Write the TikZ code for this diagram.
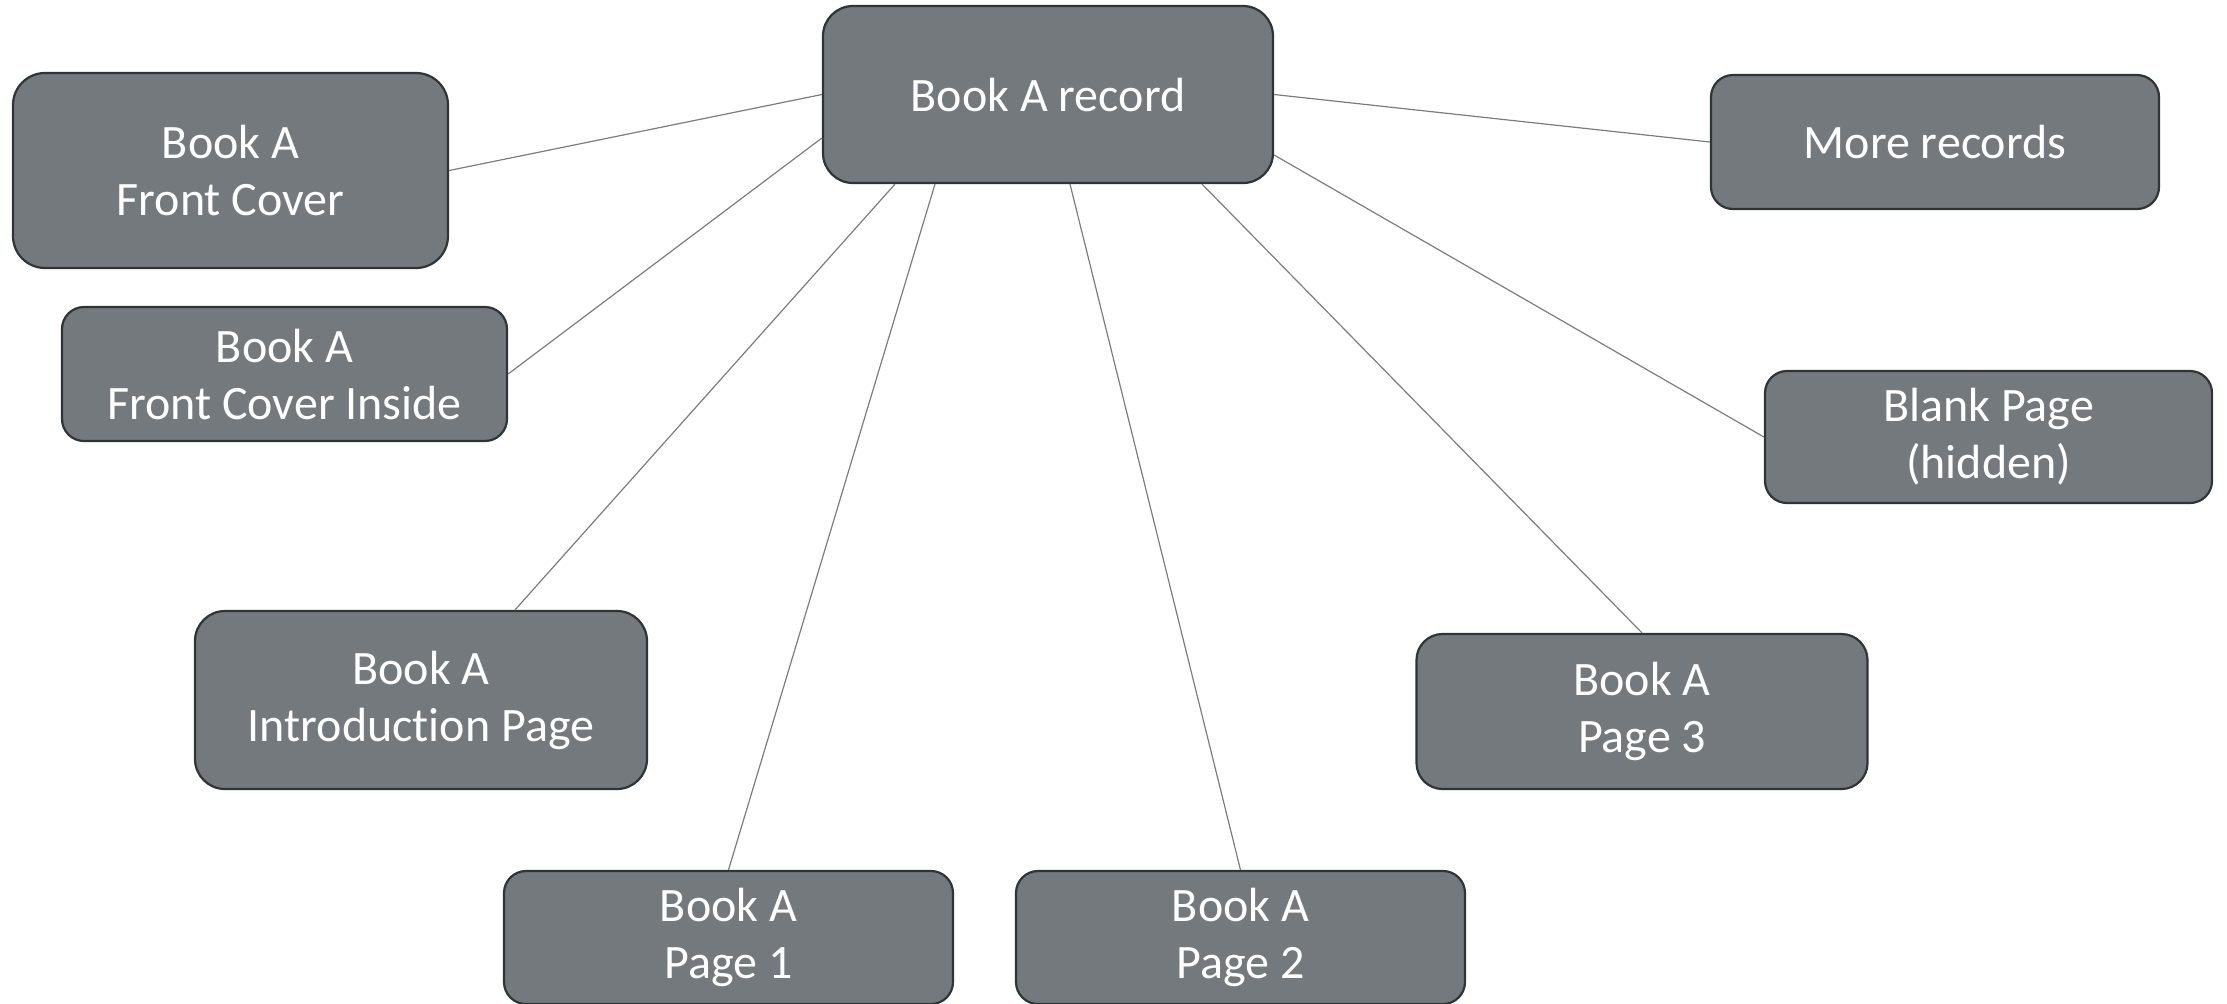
\documentclass[tikz,border=0pt]{standalone}
\usepackage{fontspec}
\setmainfont{Carlito}[Ligatures=NoCommon]
\usepackage{tikz}
\usetikzlibrary{calc}

\definecolor{boxgrey}{RGB}{115,121,124}
\definecolor{boxline}{RGB}{47,52,54}
\definecolor{linkgrey}{RGB}{122,124,126}

\tikzset{
    item/.style={draw=boxline, fill=boxgrey, line width=1.1pt, text=white,
        align=center, inner sep=0pt, font=\fontsize{24}{28.5}\selectfont},
    link/.style={draw=linkgrey, line width=0.6pt},
}

\begin{document}
\begin{tikzpicture}[x=0.5pt,y=-0.5pt]
    \useasboundingbox (0,0) rectangle (2227,1003);

    \node[item, minimum width=225pt, minimum height=88.5pt, rounded corners=15pt] (rec) at (1048,94.5) {Book A record};

    \node[item, minimum width=217.5pt, minimum height=97.5pt, rounded corners=16pt] (cover) at (230.5,170.5) {Book A\\Front Cover};
    \node[item, minimum width=222.5pt, minimum height=67pt, rounded corners=11pt] (inside) at (284.5,374) {Book A\\Front Cover Inside};
    \node[item, minimum width=226pt, minimum height=89pt, rounded corners=15pt] (intro) at (421,700) {Book A\\Introduction Page};
    \node[item, minimum width=224.5pt, minimum height=66.5pt, rounded corners=11pt] (page1) at (728.5,937.5) {Book A\\Page 1};
    \node[item, minimum width=224.5pt, minimum height=66.5pt, rounded corners=11pt] (page2) at (1240.5,937.5) {Book A\\Page 2};
    \node[item, minimum width=225.5pt, minimum height=77.5pt, rounded corners=13pt] (page3) at (1642,711.5) {Book A\\Page 3};
    \node[item, minimum width=223.5pt, minimum height=66pt, rounded corners=11pt] (blank) at (1988.5,437) {Blank Page\\(hidden)};
    \node[item, minimum width=224pt, minimum height=67pt, rounded corners=11pt] (more) at (1935,142) {More records};

    \path
        (rec.west)
            edge [link] (cover.east)
        ($(rec.west)+(0,43.5)$)
            edge [link] (inside.east)
        ($(rec.south)+(-153,0)$)
            edge [link] ($(intro.north)+(94,0)$)
        ($(rec.south)+(-113,0)$)
            edge [link] (page1.north)
        ($(rec.south)+(22,0)$)
            edge [link] (page2.north)
        ($(rec.south)+(154,0)$)
            edge [link] (page3.north)
        ($(rec.east)+(0,60.5)$)
            edge [link] (blank.west)
        (rec.east)
            edge [link] (more.west)
    ;
\end{tikzpicture}
\end{document}
